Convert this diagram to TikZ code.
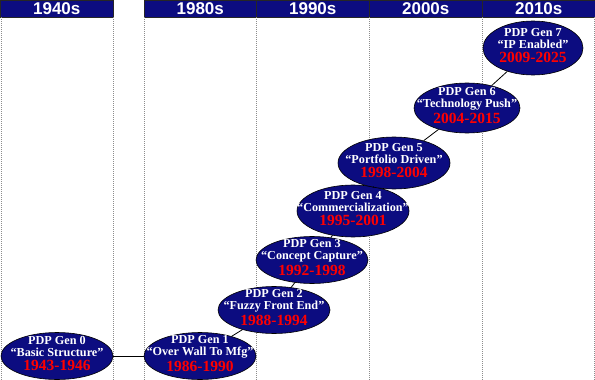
\documentclass[tikz,border=0pt]{standalone}
\usepackage{fontspec}
\setmainfont{Liberation Serif}
\newfontfamily\headfont{Liberation Sans}
\usepackage{tikz}
\usetikzlibrary{shapes.geometric, positioning}

\definecolor{gennavy}{RGB}{12,12,128}
\definecolor{genred}{RGB}{255,0,0}

\tikzset{
  gen/.style={ellipse, draw=black, line width=0.6pt, fill=gennavy,
    minimum width=112pt, minimum height=47pt, inner sep=0pt},
  gentext/.style={text=white, align=center, yshift=2.5pt, inner sep=0pt,
    font=\bfseries\fontsize{12.2}{12}\selectfont},
  decade/.style={draw=black!85, line width=0.5pt, fill=gennavy, text=white,
    minimum height=17pt, inner sep=0pt, anchor=north west,
    font=\headfont\bfseries\fontsize{17}{17}\selectfont}
}
\newcommand{\gyears}[1]{\\[2pt]{\color{genred}\fontsize{15.5}{15.5}\selectfont #1}}

\begin{document}
\begin{tikzpicture}[x=1pt,y=-1pt,node distance=3cm,on grid,line width=0.8pt]
  \useasboundingbox[fill=white] (0,0) rectangle (595,380);

  % decade bars
  \node[decade, minimum width=113pt] (h40) at (0,0)   {1940s};
  \node[decade, minimum width=112pt] (h80) at (144,0) {1980s};
  \node[decade, minimum width=113pt] (h90) at (256,0) {1990s};
  \node[decade, minimum width=113pt] (h00) at (369,0) {2000s};
  \node[decade, minimum width=113pt] (h10) at (482,0) {2010s};

  % column rules
  \foreach \x in {1,113,144,256,369,482,594}
    \draw[black!45, line width=0.5pt, dash pattern=on 1pt off 1pt] (\x,17) -- (\x,380);

  % generations
  \node[gen, label={[gentext]center:{PDP Gen 0\\“Basic Structure”\gyears{1943-1946}}}] (0) at (57,356) {};
  \node[gen, label={[gentext]center:{PDP Gen 1\\“Over Wall To Mfg”\gyears{1986-1990}}}] (1) [right=143pt of 0] {};
  \node[gen, label={[gentext]center:{PDP Gen 2\\“Fuzzy Front End”\gyears{1988-1994}}}] (2) [above right=46pt and 74pt of 1] {};
  \node[gen, label={[gentext]center:{PDP Gen 3\\“Concept Capture”\gyears{1992-1998}}}] (3) [above right=50pt and 38pt of 2] {};
  \node[gen, minimum height=52pt, label={[gentext]center:{PDP Gen 4\\“Commercialization”\gyears{1995-2001}}}] (4) [above right=49pt and 41pt of 3] {};
  \node[gen, minimum height=52pt, label={[gentext]center:{PDP Gen 5\\“Portfolio Driven”\gyears{1998-2004}}}] (5) [above right=48pt and 41pt of 4] {};
  \node[gen, minimum width=106pt, minimum height=50pt, label={[gentext]center:{PDP Gen 6\\“Technology Push”\gyears{2004-2015}}}] (6) [above right=55pt and 73pt of 5] {};
  \node[gen, minimum width=100pt, minimum height=54pt, label={[gentext]center:{PDP Gen 7\\“IP Enabled”\gyears{2009-2025}}}] (7) [above right=60pt and 66pt of 6] {};

  \draw (0) -- (1);
  \foreach \a/\b in {1/2,2/3,3/4,4/5,5/6,6/7}
    \draw (\a) -- (\b);
\end{tikzpicture}
\end{document}
